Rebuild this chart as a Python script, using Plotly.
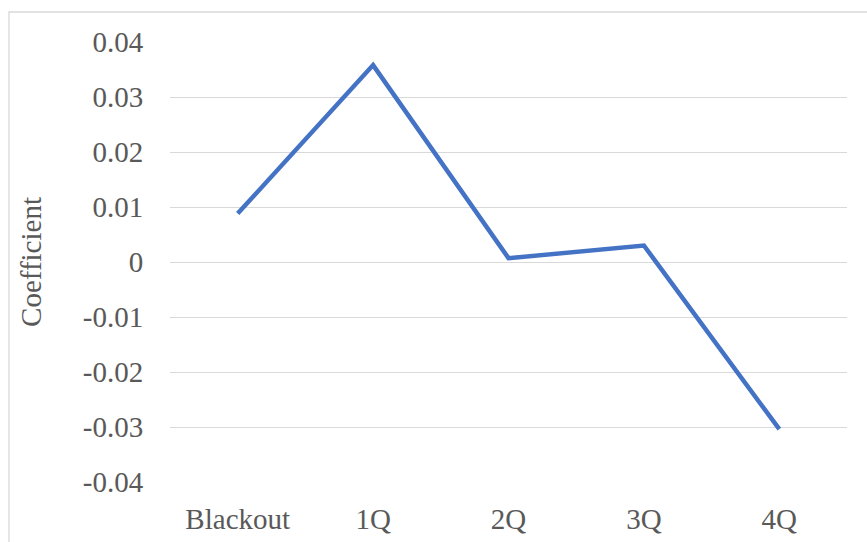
import plotly.graph_objects as go

categories = ["Blackout", "1Q", "2Q", "3Q", "4Q"]
coefficients = [0.0088, 0.0358, 0.0007, 0.0030, -0.0304]
y_ticks = [-0.04, -0.03, -0.02, -0.01, 0, 0.01, 0.02, 0.03, 0.04]
y_tick_labels = ["-0.04", "-0.03", "-0.02", "-0.01", "0", "0.01", "0.02", "0.03", "0.04"]

W, H = 867, 542
L, R, T, B = 170, 20, 42, 60
pw, ph = W - L - R, H - T - B

fig = go.Figure()
fig.add_trace(go.Scatter(
    x=categories, y=coefficients, mode="lines",
    line=dict(color="#4472C4", width=4.5),
    hoverinfo="x+y",
))

font = dict(family="Liberation Serif, Times New Roman, serif", size=29, color="#595959")

fig.update_layout(
    width=W, height=H,
    margin=dict(l=L, r=R, t=T, b=B),
    paper_bgcolor="white", plot_bgcolor="white",
    showlegend=False,
    font=font,
    xaxis=dict(
        type="category", range=[-0.5, 4.5], showgrid=False, zeroline=False,
        showline=False, ticks="", tickfont=font,
        ticklabelstandoff=17, automargin=False,
    ),
    yaxis=dict(
        range=[-0.04, 0.04], tickvals=y_ticks, ticktext=y_tick_labels,
        showgrid=True, gridcolor="#d9d9d9", gridwidth=1.3,
        zeroline=False, showline=False, tickfont=font,
        ticks="outside", ticklen=20, tickcolor="rgba(0,0,0,0)",
        title=dict(text="Coefficient", font=font, standoff=32),
        automargin=False,
    ),
    shapes=[dict(
        type="rect", xref="paper", yref="paper",
        x0=(9 - L) / pw, x1=(W + 5 - L) / pw,
        y0=(T + ph - (H + 5)) / ph, y1=(T + ph - 12) / ph,
        line=dict(color="#d9d9d9", width=1.3), fillcolor="rgba(0,0,0,0)",
        layer="below",
    )],
)

fig.write_html("out.html")
